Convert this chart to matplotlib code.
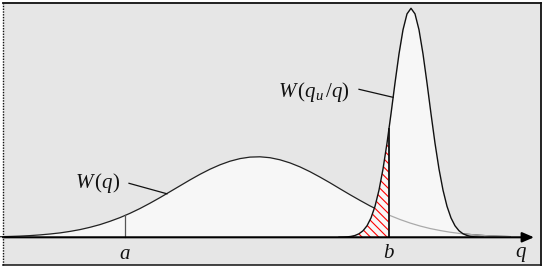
import matplotlib
matplotlib.use("Agg")
import matplotlib.pyplot as plt
from matplotlib.patches import Rectangle, Polygon
import numpy as np

plt.rcParams['mathtext.fontset'] = 'custom'
plt.rcParams['mathtext.it'] = 'Liberation Serif:italic'
plt.rcParams['mathtext.rm'] = 'Liberation Serif'
plt.rcParams['hatch.linewidth'] = 0.8

# W(q): broad distribution (arbitrary units)
w_q = [0, 10, 20, 30, 40, 50, 60, 70, 80, 90, 100, 110, 120, 130, 140, 150,
       160, 170, 180, 190, 200, 210, 220, 230, 240, 250, 260, 270, 280, 290,
       300, 310, 320, 330, 340, 350, 360, 370, 380, 390, 400, 410, 420, 430,
       440, 450, 460, 470, 480, 490, 500, 510]
w_val = [0.6, 0.85, 1.2, 1.7, 2.4, 3.3, 4.4, 5.9, 7.7, 10.0, 12.7, 16.0, 19.7,
         24.0, 28.8, 34.1, 39.7, 45.6, 51.5, 57.4, 63.0, 68.1, 72.5, 76.1,
         78.7, 80.2, 80.5, 79.6, 77.5, 74.4, 70.4, 65.6, 60.2, 54.5, 48.5,
         42.6, 36.9, 31.4, 26.4, 21.8, 17.8, 14.3, 11.3, 8.8, 6.8, 5.1, 3.8,
         2.8, 2.0, 1.4, 1.0, 0.7]

# W(q_u/q): narrow distribution
t_q = [339, 343, 347, 351, 355, 359, 363, 367, 371, 375, 379, 383, 387, 391,
       395, 399, 403, 407, 411, 415, 419, 423, 427, 431, 435, 439, 443, 447,
       451, 455, 459, 463, 467, 471, 475, 479, 483]
t_val = [0.08, 0.18, 0.41, 0.88, 1.81, 3.53, 6.54, 11.5, 19.4, 31.0, 47.2,
         68.3, 94.1, 123.5, 154.3, 183.4, 207.5, 223.4, 229.0, 223.4, 207.5,
         183.4, 154.3, 123.5, 94.1, 68.3, 47.2, 31.0, 19.4, 11.5, 6.54, 3.53,
         1.81, 0.88, 0.41, 0.18, 0.08]

a_pos = 125
b_pos = 389

bg = '#e6e6e6'
fill = '#f7f7f7'

fig = plt.figure(figsize=(5.45, 2.7), dpi=100)
ax = fig.add_axes([0, 0, 1, 1])
ax.set_xlim(0, 545)
ax.set_ylim(-32.7, 237.3)
ax.axis('off')

# grey panel with frame (figure-fraction coordinates)
ft = fig.transFigure
ax.add_patch(Rectangle((3 / 545, 5 / 270), 538 / 545, 263 / 270,
                       transform=ft, facecolor=bg, edgecolor='none', zorder=0))
frame = [([3, 541], [267.5, 267.5], '-', 1.3),
         ([541, 541], [5, 267.5], '-', 1.3),
         ([3, 541], [5.5, 5.5], '-', 1.1),
         ([2.5, 2.5], [5, 267.5], (0, (1, 1)), 1.0)]
for xs, ys, ls, lw in frame:
    ax.plot(np.array(xs) / 545, np.array(ys) / 270, transform=ft,
            color='#111111', lw=lw, ls=ls, clip_on=False, zorder=8)

wq = np.array(w_q, dtype=float)
wv = np.array(w_val)
tq = np.array(t_q, dtype=float)
tv = np.array(t_val)

# broad curve
ax.fill_between(wq, 0, wv, color=fill, lw=0, zorder=1)
ax.plot(wq, wv, color='#222222', lw=0.9, zorder=2)

# narrow curve fill hides the broad line underneath
ax.fill_between(tq, 0, tv, color=fill, lw=0, zorder=3)
m = wq >= b_pos - 1
ax.plot(wq[m], wv[m], color='#aaaaaa', lw=0.9, zorder=4)

# hatched area under narrow curve left of b
tb = np.interp(b_pos, tq, tv)
k = tq <= b_pos
pts = [(x, y) for x, y in zip(tq[k], tv[k])] + [(b_pos, tb), (b_pos, 0), (tq[0], 0)]
ax.add_patch(Polygon(pts, closed=True, facecolor=fill, edgecolor='red',
                     lw=0, hatch='\\\\\\\\', zorder=4))
ax.plot(tq, tv, color='#111111', lw=1.0, zorder=5)

# verticals at a and b
ax.plot([a_pos, a_pos], [0, np.interp(a_pos, wq, wv)], color='#555555',
        lw=0.9, zorder=5)
ax.plot([b_pos, b_pos], [0, tb], color='#111111', lw=1.3, zorder=6)

# q axis with arrow
ax.annotate('', xy=(534, 0), xytext=(3, 0),
            arrowprops=dict(arrowstyle='-|>,head_length=0.7,head_width=0.3',
                            lw=1.5, color='black', shrinkA=0, shrinkB=0),
            zorder=7)

tkw = dict(fontsize=15, color='#111111', ha='center', va='center', zorder=8)
ax.text(a_pos, -16, r'$\mathit{a}$', **tkw)
ax.text(b_pos, -15, r'$\mathit{b}$', **tkw)
ax.text(521, -17, r'$\mathit{q}$', **tkw)
ax.text(98, 54, r'$\mathit{W\,(q)}$', **tkw)
ax.text(314, 145, r'$\mathit{W\,(q_u\,/q)}$', **tkw)

# leader lines
ax.plot([129, 167], [54, 43.5], color='#111111', lw=0.9, zorder=6)
ax.plot([359, 393], [148, 140], color='#111111', lw=0.9, zorder=6)

fig.savefig('out.png', dpi=100)
